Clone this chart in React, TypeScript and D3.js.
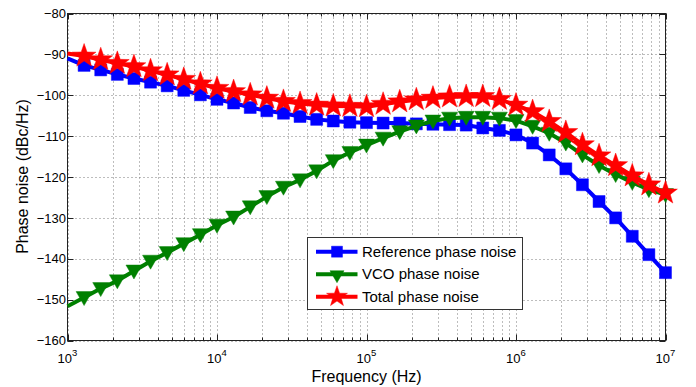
import React from 'react';
import * as d3 from 'd3';

// Frequency grid (Hz)
const FREQS = [
  1000, 1291.5, 1668.1, 2154.4, 2782.6, 3593.8, 4641.6, 5994.8, 7742.6,
  10000, 12915, 16681, 21544, 27826, 35938, 46416, 59948, 77426,
  100000, 129150, 166810, 215440, 278260, 359380, 464160, 599480, 774260,
  1000000, 1291500, 1668100, 2154400, 2782600, 3593800, 4641600, 5994800, 7742600,
  10000000,
];

// Series values (dBc/Hz)
const REF_NOISE = [
  -91.0, -92.7, -93.8, -94.9, -95.9, -96.8, -97.7, -98.8, -99.9,
  -101.0, -101.9, -103.0, -103.8, -104.4, -105.2, -105.9, -106.3, -106.6,
  -106.7, -106.8, -106.8, -107.0, -107.1, -107.2, -107.3, -108.0, -108.6,
  -109.7, -111.7, -114.6, -118.0, -121.9, -126.0, -130.0, -134.5, -139.0,
  -143.4,
];
const VCO_NOISE = [
  -151.6, -149.5, -147.3, -145.4, -143.0, -140.6, -138.5, -136.3, -134.1,
  -131.8, -129.8, -127.3, -124.8, -122.5, -120.7, -118.5, -116.0, -114.0,
  -112.2, -110.5, -108.9, -107.5, -106.3, -105.6, -105.4, -105.4, -105.6,
  -106.2, -107.6, -109.3, -111.7, -114.6, -117.2, -119.4, -121.3, -123.1,
  -124.3,
];
const TOTAL_NOISE = [
  -89.8, -90.4, -91.3, -92.2, -93.0, -94.0, -95.0, -96.1, -97.2,
  -98.3, -99.1, -99.9, -100.7, -101.5, -102.0, -102.4, -102.6, -102.7,
  -102.8, -102.2, -101.6, -101.1, -100.7, -100.4, -100.3, -100.3, -101.0,
  -102.4, -104.0, -106.4, -109.1, -112.1, -114.8, -117.2, -119.7, -121.9,
  -123.9,
];

const SERIES_NAMES = ['Reference phase noise', 'VCO phase noise', 'Total phase noise'];
const X_MAJOR = [1e3, 1e4, 1e5, 1e6, 1e7];
const X_EXPONENTS = ['3', '4', '5', '6', '7'];
const X_MINOR_MULT = [2, 3, 4, 5, 6, 7, 8, 9];
const Y_TICKS = [-160, -150, -140, -130, -120, -110, -100, -90, -80];

const FONT = '"Liberation Sans", Arial, Helvetica, sans-serif';

function starPath(R: number, r: number): string {
  const pts: string[] = [];
  for (let i = 0; i < 10; i++) {
    const rad = i % 2 === 0 ? R : r;
    const a = -Math.PI / 2 + (i * Math.PI) / 5;
    pts.push(`${(rad * Math.cos(a)).toFixed(2)},${(rad * Math.sin(a)).toFixed(2)}`);
  }
  return 'M' + pts.join('L') + 'Z';
}

const SQUARE = 'M-6,-6L6,-6L6,6L-6,6Z';
const TRIANGLE = 'M-8,-6L8,-6L0,8Z';
const STAR = starPath(12.5, 5);
const SQUARE_L = 'M-5.5,-5.5L5.5,-5.5L5.5,5.5L-5.5,5.5Z';
const TRIANGLE_L = 'M-7,-3.5L7,-3.5L0,8.5Z';
const STAR_L = starPath(11, 4.4);

export default function App() {
  const W = 696, H = 387;
  const L = 67.5, R = 665.5, T = 13.5, B = 340.5;
  const x = d3.scaleLog().domain([1e3, 1e7]).range([L, R]);
  const y = d3.scaleLinear().domain([-160, -80]).range([B, T]);
  const line = d3.line<number>().x((_, i) => x(FREQS[i])).y((d) => y(d));

  const minorX: number[] = [];
  X_MAJOR.slice(0, -1).forEach((d) => X_MINOR_MULT.forEach((m) => minorX.push(d * m)));

  const series = [
    { name: SERIES_NAMES[0], data: REF_NOISE, color: '#0000ff', marker: SQUARE, lmarker: SQUARE_L },
    { name: SERIES_NAMES[1], data: VCO_NOISE, color: '#008000', marker: TRIANGLE, lmarker: TRIANGLE_L },
    { name: SERIES_NAMES[2], data: TOTAL_NOISE, color: '#ff0000', marker: STAR, lmarker: STAR_L },
  ];

  const gridStyle = { stroke: '#7a7a7a', strokeWidth: 1, strokeDasharray: '1,3', fill: 'none' };

  const legX0 = 307.5, legY0 = 237.5, legW = 215, legH = 72;
  const rowY = [251.7, 274.2, 296.7];

  return (
    <svg width={W} height={H} style={{ position: 'absolute', left: 0, top: 0, background: '#fff' }}
      fontFamily={FONT}>
      <rect x={0} y={0} width={W} height={H} fill="#fff" />
      {/* grid */}
      <g>
        {X_MAJOR.concat(minorX).map((v, i) => (
          <line key={'gx' + i} x1={Math.round(x(v)) + 0.5} x2={Math.round(x(v)) + 0.5} y1={T} y2={B} style={gridStyle} />
        ))}
        {Y_TICKS.map((v, i) => (
          <line key={'gy' + i} x1={L} x2={R} y1={Math.round(y(v)) + 0.5} y2={Math.round(y(v)) + 0.5} style={gridStyle} />
        ))}
      </g>
      {/* axis box and ticks */}
      <g stroke="#222" strokeWidth={1} fill="none">
        <rect x={L} y={T} width={R - L} height={B - T} />
        {Y_TICKS.map((v, i) => {
          const yy = Math.round(y(v)) + 0.5;
          return (
            <g key={'ty' + i}>
              <line x1={L} x2={L + 6} y1={yy} y2={yy} />
              <line x1={R} x2={R - 6} y1={yy} y2={yy} />
            </g>
          );
        })}
        {X_MAJOR.map((v, i) => {
          const xx = Math.round(x(v)) + 0.5;
          return (
            <g key={'tx' + i}>
              <line x1={xx} x2={xx} y1={B} y2={B - 6} />
              <line x1={xx} x2={xx} y1={T} y2={T + 6} />
            </g>
          );
        })}
        {minorX.map((v, i) => {
          const xx = Math.round(x(v)) + 0.5;
          return (
            <g key={'mx' + i}>
              <line x1={xx} x2={xx} y1={B} y2={B - 3} />
              <line x1={xx} x2={xx} y1={T} y2={T + 3} />
            </g>
          );
        })}
      </g>
      {/* tick labels */}
      <g fontSize={13} fill="#000">
        {Y_TICKS.map((v, i) => (
          <text key={'ly' + i} x={L - 1.5} y={y(v) + 4.7} textAnchor="end">
            {v < 0 ? '\u2212' + Math.abs(v) : String(v)}
          </text>
        ))}
        {X_MAJOR.map((v, i) => (
          <text key={'lx' + i} x={x(v)} y={B + 22} textAnchor="middle">
            10<tspan dy={-7} fontSize={9.5}>{X_EXPONENTS[i]}</tspan>
          </text>
        ))}
      </g>
      {/* axis titles */}
      <text x={(L + R) / 2} y={381.5} textAnchor="middle" fontSize={16} fill="#000">Frequency (Hz)</text>
      <text transform={`translate(28,176.5) rotate(-90)`} textAnchor="middle" fontSize={16} fill="#000">Phase noise (dBc/Hz)</text>
      {/* series */}
      {series.map((s) => (
        <g key={s.name}>
          <path d={line(s.data) || ''} fill="none" stroke={s.color} strokeWidth={4} strokeLinejoin="round" />
          {s.data.map((v, i) =>
            i === 0 ? null : (
              <path key={i} d={s.marker} transform={`translate(${x(FREQS[i])},${y(v)})`} fill={s.color}
                stroke={s.color} strokeOpacity={0.45} strokeWidth={1} />
            )
          )}
        </g>
      ))}
      {/* legend */}
      <g>
        <rect x={legX0} y={legY0} width={legW} height={legH} fill="#fff" stroke="#333" strokeWidth={1} />
        {series.map((s, i) => (
          <g key={'leg' + i}>
            <line x1={316} x2={357.5} y1={rowY[i]} y2={rowY[i]} stroke={s.color} strokeWidth={4} />
            <path d={s.lmarker} transform={`translate(337,${rowY[i]})`} fill={s.color} stroke={s.color}
              strokeOpacity={0.45} strokeWidth={1} />
            <text x={362} y={rowY[i] + 5} fontSize={15} fill="#000">{s.name}</text>
          </g>
        ))}
      </g>
    </svg>
  );
}
